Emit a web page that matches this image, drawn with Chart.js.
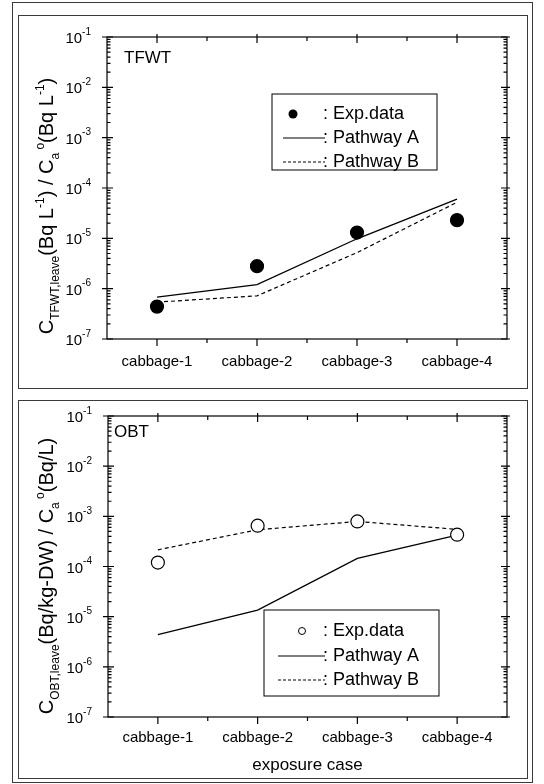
<!DOCTYPE html>
<html>
<head>
<meta charset="utf-8">
<script src="https://cdn.jsdelivr.net/npm/chart.js@4.4.0/dist/chart.umd.min.js"></script>
<style>
  body { margin: 0; background: #fff; }
  #page { position: relative; width: 544px; height: 784px; background: #fff; overflow: hidden; }
  .frame { position: absolute; border: 1px solid #3a3a3a; box-sizing: border-box; }
  canvas { position: absolute; }
</style>
</head>
<body>
<div id="page">
  <div class="frame" style="left:12px;top:2px;width:521px;height:781px;"></div>
  <div class="frame" style="left:18px;top:15px;width:510px;height:374px;"></div>
  <div class="frame" style="left:18px;top:400px;width:510px;height:379px;"></div>
  <canvas id="tfwtChart" width="509" height="373" style="left:18px;top:15px;"></canvas>
  <canvas id="obtChart" width="509" height="378" style="left:18px;top:400px;"></canvas>
</div>
<script>
var FONT = '"Liberation Sans", Arial, sans-serif';

// x categories and the y decades that get a "10^n" label
var categories = ['cabbage-1', 'cabbage-2', 'cabbage-3', 'cabbage-4'];
var yTickValues = [1e-7, 1e-6, 1e-5, 1e-4, 1e-3, 1e-2, 1e-1];
var yTickExps = ['-7', '-6', '-5', '-4', '-3', '-2', '-1'];

// TFWT panel
var tfwtExp = [4.4e-7, 2.8e-6, 1.3e-5, 2.3e-5];
var tfwtPathA = [6.8e-7, 1.2e-6, 9.8e-6, 6.0e-5];
var tfwtPathB = [5.4e-7, 7.2e-7, 5.2e-6, 5.2e-5];

// OBT panel
var obtExp = [1.2e-4, 6.5e-4, 7.9e-4, 4.3e-4];
var obtPathA = [4.4e-6, 1.35e-5, 1.45e-4, 4.2e-4];
var obtPathB = [2.15e-4, 5.4e-4, 7.9e-4, 5.5e-4];

// axis titles, [text, kind] with kind n / sub / sup
var tfwtTitle = [['C', 'n'], ['TFWT,leave', 'sub'], ['(Bq L', 'n'], ['-1', 'sup'], [') / C', 'n'],
  ['a', 'sub'], [' o', 'sup'], ['(Bq L', 'n'], ['-1', 'sup'], [')', 'n']];
var obtTitle = [['C', 'n'], ['OBT,leave', 'sub'], ['(Bq/kg-DW) / C', 'n'], ['a', 'sub'], [' o', 'sup'], ['(Bq/L)', 'n']];


// draws a centered line of text with sub/superscripts at the current origin
function drawRich(ctx, segs, size) {
    var small = Math.round(size * 0.6);
    var total = 0;
    var widths = [];
    for (var i = 0; i < segs.length; i++) {
        ctx.font = (segs[i][1] === 'n' ? size : small) + 'px ' + FONT;
        widths.push(ctx.measureText(segs[i][0]).width);
        total += widths[i];
    }
    var x = -total / 2;
    var base = size * 0.36;
    ctx.textAlign = 'left';
    ctx.textBaseline = 'alphabetic';
    for (var j = 0; j < segs.length; j++) {
        var kind = segs[j][1];
        var off = kind === 'sub' ? size * 0.3 : (kind === 'sup' ? -size * 0.45 : 0);
        ctx.font = (kind === 'n' ? size : small) + 'px ' + FONT;
        ctx.fillText(segs[j][0], x, base + off);
        x += widths[j];
    }
}


// box, ticks on all four sides, 10^n labels, title, tag and legend
var panelDeco = {
    id: 'panelDeco',
    afterDatasetsDraw: function (chart) {
        var o = chart.options.plugins.panelDeco;
        var ctx = chart.ctx;
        var a = chart.chartArea;
        var xs = chart.scales.x;
        var ys = chart.scales.y;
        ctx.save();
        ctx.strokeStyle = '#000';
        ctx.fillStyle = '#000';
        ctx.lineWidth = 1.2;
        ctx.strokeRect(a.left, a.top, a.right - a.left, a.bottom - a.top);

        ctx.beginPath();
        for (var i = 0; i < yTickValues.length; i++) {
            var y = ys.getPixelForValue(yTickValues[i]);
            ctx.moveTo(a.left - 5, y); ctx.lineTo(a.left + 6, y);
            ctx.moveTo(a.right - 6, y); ctx.lineTo(a.right + 3, y);
            if (i < yTickValues.length - 1) {
                for (var k = 2; k <= 9; k++) {
                    var ym = ys.getPixelForValue(k * yTickValues[i]);
                    ctx.moveTo(a.left, ym); ctx.lineTo(a.left + 3.5, ym);
                    ctx.moveTo(a.right - 3.5, ym); ctx.lineTo(a.right, ym);
                }
            }
        }
        for (var j = 0; j < categories.length; j++) {
            var x = xs.getPixelForValue(j);
            ctx.moveTo(x, a.bottom); ctx.lineTo(x, a.bottom + 7);
            ctx.moveTo(x, a.top - 3); ctx.lineTo(x, a.top + 6);
            if (j < categories.length - 1) {
                var xm = xs.getPixelForValue(j + 0.5);
                ctx.moveTo(xm, a.bottom); ctx.lineTo(xm, a.bottom + 4);
                ctx.moveTo(xm, a.top); ctx.lineTo(xm, a.top + 4);
            }
        }
        ctx.stroke();

        // 10^n labels
        for (var n = 0; n < yTickValues.length; n++) {
            var yy = ys.getPixelForValue(yTickValues[n]);
            ctx.font = '10px ' + FONT;
            var supW = ctx.measureText(yTickExps[n]).width;
            var sx = a.left - 16 - supW;
            ctx.textBaseline = 'middle';
            ctx.textAlign = 'left';
            ctx.fillText(yTickExps[n], sx, yy - 5);
            ctx.font = '15px ' + FONT;
            ctx.textAlign = 'right';
            ctx.fillText('10', sx, yy + 2);
        }

        // rotated y title
        ctx.save();
        ctx.translate(o.titleX, o.titleY);
        ctx.rotate(-Math.PI / 2);
        drawRich(ctx, o.title, o.titleSize);
        ctx.restore();

        // panel tag
        ctx.font = '17px ' + FONT;
        ctx.textAlign = 'left';
        ctx.textBaseline = 'middle';
        ctx.fillText(o.tag, o.tagX, o.tagY);

        // legend
        var L = o.legend;
        ctx.fillStyle = '#fff';
        ctx.fillRect(L.x, L.y, L.w, L.h);
        ctx.lineWidth = 1;
        ctx.strokeRect(L.x, L.y, L.w, L.h);
        ctx.fillStyle = '#000';
        ctx.font = '18px ' + FONT;
        var ds = chart.data.datasets;
        for (var r = 0; r < 3; r++) {
            ctx.fillText(': ' + ds[r].label, L.textX, L.rows[r]);
        }
        ctx.beginPath();
        ctx.arc(L.dotX, L.rows[0], L.dotR, 0, Math.PI * 2);
        if (L.filled) {
            ctx.fill();
        } else {
            ctx.stroke();
        }
        ctx.lineWidth = 1.2;
        ctx.beginPath();
        ctx.moveTo(L.lineX1, L.rows[1]); ctx.lineTo(L.lineX2, L.rows[1]);
        ctx.stroke();
        ctx.setLineDash([3, 2]);
        ctx.beginPath();
        ctx.moveTo(L.lineX1, L.rows[2]); ctx.lineTo(L.lineX2, L.rows[2]);
        ctx.stroke();
        ctx.restore();
    }
};


function makePanel(id, exp, pathA, pathB, filled, deco, lay) {
    var ctx = document.getElementById(id).getContext('2d');
    return new Chart(ctx, {
        type: 'line',
        data: {
            labels: categories,
            datasets: [{
                label: 'Exp.data',
                data: exp,
                showLine: false,
                pointRadius: 6.5,
                pointBorderWidth: 1.2,
                pointBorderColor: '#000',
                pointBackgroundColor: filled ? '#000' : '#fff'
            },
            {
                label: 'Pathway A',
                data: pathA,
                borderColor: '#000',
                borderWidth: 1.3,
                pointRadius: 0
            },
            {
                label: 'Pathway B',
                data: pathB,
                borderColor: '#000',
                borderWidth: 1.2,
                borderDash: [4, 3],
                pointRadius: 0
            }
            ]
        },
        options: {
            responsive: false,
            animation: false,
            layout: { padding: { left: 0, right: 20, top: lay.top, bottom: 0 } },
            plugins: {
                legend: { display: false },
                tooltip: { enabled: false },
                panelDeco: deco
            },
            scales: {
                x: {
                    type: 'category',
                    offset: true,
                    grid: { display: false, drawTicks: false },
                    border: { display: false },
                    ticks: { color: '#000', padding: lay.tickPad, font: { family: FONT, size: 15 } },
                    title: {
                        display: lay.xTitle !== '',
                        text: lay.xTitle,
                        color: '#000',
                        padding: { top: 0, bottom: 2 },
                        font: { family: FONT, size: 17 }
                    },
                    afterFit: function (scale) { scale.height = lay.xHeight; }
                },
                y: {
                    type: 'logarithmic',
                    min: 1e-7,
                    max: 1e-1,
                    grid: { display: false, drawTicks: false },
                    border: { display: false },
                    ticks: { display: false },
                    afterFit: function (scale) { scale.width = lay.yWidth; }
                }
            }
        },
        plugins: [panelDeco]
    });
}


var tfwtChart = makePanel('tfwtChart', tfwtExp, tfwtPathA, tfwtPathB, true, {
    title: tfwtTitle, titleX: 28, titleY: 191, titleSize: 20,
    tag: 'TFWT', tagX: 106, tagY: 43,
    legend: { x: 254, y: 79, w: 165, h: 76, rows: [99, 123, 147], filled: true,
        dotX: 275, dotR: 4.5, lineX1: 265, lineX2: 307, textX: 305 }
}, { top: 22, xHeight: 49, yWidth: 89, tickPad: 14, xTitle: '' });

var obtChart = makePanel('obtChart', obtExp, obtPathA, obtPathB, false, {
    title: obtTitle, titleX: 28, titleY: 176, titleSize: 20,
    tag: 'OBT', tagX: 96, tagY: 32,
    legend: { x: 246, y: 210, w: 175, h: 86, rows: [231, 256, 280], filled: false,
        dotX: 284, dotR: 3.5, lineX1: 260, lineX2: 307, textX: 305 }
}, { top: 16, xHeight: 61, yWidth: 90, tickPad: 12, xTitle: 'exposure case' });
</script>
</body>
</html>
